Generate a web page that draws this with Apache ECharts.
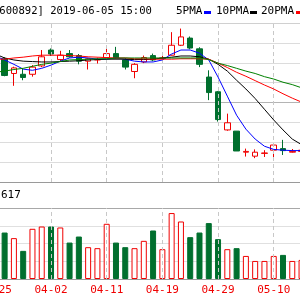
<!DOCTYPE html>
<html>
<head>
<meta charset="utf-8">
<script src="https://cdn.jsdelivr.net/npm/echarts@6/dist/echarts.min.js"></script>
<style>html,body{margin:0;padding:0;background:#fff}#c{width:300px;height:300px}</style>
</head>
<body>
<div id="c"></div>
<script>
const dates = ['03-25','03-26','03-27','03-28','03-29','04-01','04-02','04-03','04-04','04-08','04-09','04-10','04-11','04-12','04-15','04-16','04-17','04-18','04-19','04-22','04-23','04-24','04-25','04-26','04-29','04-30','05-06','05-07','05-08','05-09','05-10','05-13','05-14','05-15'];
const openP  = [7.25,7.10,6.73,6.71,6.71,6.92,7.32,7.08,7.23,7.18,7.04,7.07,7.13,7.23,7.07,6.78,7.02,7.18,7.11,7.19,7.44,7.62,7.35,6.64,6.27,5.31,5.28,4.75,4.65,4.72,4.80,4.84,4.75,4.77];
const closeP = [7.10,6.68,6.87,6.63,6.89,7.15,7.22,7.19,7.15,7.04,7.10,7.08,7.23,7.12,6.89,6.96,7.13,7.07,7.12,7.44,7.65,7.37,6.96,6.25,5.57,5.49,4.78,4.77,4.75,4.73,4.93,4.79,4.77,4.80];
const lowP   = [7.05,6.66,6.42,6.56,6.65,6.89,7.17,7.04,7.13,6.96,6.83,6.98,7.12,7.10,6.83,6.61,6.99,7.04,7.04,7.18,7.42,7.34,6.89,6.06,5.52,5.29,4.78,4.64,4.60,4.63,4.60,4.68,4.74,4.75];
const highP  = [7.30,7.14,6.90,6.86,6.94,7.32,7.36,7.30,7.32,7.22,7.12,7.13,7.40,7.40,7.12,6.99,7.18,7.23,7.22,7.77,7.86,7.66,7.39,6.81,6.29,5.72,5.28,4.84,4.82,4.80,4.93,5.06,4.83,4.83];
const ma5  = [7.17,7.07,6.96,6.84,6.81,6.86,6.94,7.04,7.12,7.14,7.12,7.09,7.09,7.12,7.09,7.04,7.02,7.02,7.07,7.22,7.32,7.32,7.24,7.07,6.64,6.16,5.68,5.33,5.08,4.90,4.82,4.80,4.79,4.79];
const ma10 = [7.22,7.12,7.07,7.04,7.03,7.02,7.02,7.03,7.04,7.05,7.07,7.08,7.09,7.09,7.09,7.08,7.08,7.09,7.12,7.14,7.17,7.17,7.15,7.09,6.96,6.79,6.56,6.34,6.10,5.83,5.56,5.31,5.08,4.94];
const ma20 = [7.09,7.09,7.12,7.14,7.17,7.19,7.19,7.19,7.18,7.17,7.15,7.14,7.13,7.12,7.12,7.10,7.10,7.09,7.09,7.09,7.10,7.10,7.10,7.09,6.99,6.88,6.76,6.66,6.55,6.44,6.34,6.22,6.11,6.01];
const ma30 = [6.76,6.79,6.83,6.86,6.91,6.96,6.99,7.03,7.07,7.08,7.09,7.10,7.10,7.12,7.12,7.12,7.12,7.12,7.12,7.12,7.12,7.12,7.12,7.08,6.99,6.93,6.86,6.79,6.73,6.65,6.59,6.51,6.45,6.37];
const volume = [90000,104700,92100,63400,113100,118300,118300,116100,82100,95700,71700,69500,124400,82100,71700,69500,86000,109300,67200,148600,129600,94300,104700,126000,89800,67200,69500,52000,40700,40700,52000,54300,40700,43000];
const markDates = ['04-02','04-11','04-19','04-29','05-10'];

const RED = '#f00000', GREEN = '#006f2e';
const candles = dates.map((d, i) => [openP[i], closeP[i], lowP[i], highP[i]]);
const volData = volume.map((v, i) => {
  const up = closeP[i] >= openP[i];
  return { value: v, itemStyle: up ? { color: '#fff', borderColor: RED, borderWidth: 1 } : { color: GREEN, borderColor: GREEN, borderWidth: 1 } };
});
const mono = '"DejaVu Sans Mono", "Liberation Mono", monospace';

const chart = echarts.init(document.getElementById('c'), null, { renderer: 'canvas' });
const vline = { symbol: 'none', silent: true, label: { show: false },
  lineStyle: { type: [4, 3], color: '#c8c8c8', width: 1 },
  data: markDates.map(d => ({ xAxis: d })) };
const lineS = (name, data, color) => ({ name, type: 'line', data, xAxisIndex: 0, yAxisIndex: 0,
  showSymbol: false, symbol: 'none', lineStyle: { width: 1, color }, itemStyle: { color }, z: 5, animation: false });

chart.setOption({
  animation: false,
  backgroundColor: '#fff',
  grid: [
    { left: -9.3, right: -6.2, top: 23, height: 159, containLabel: false, outerBoundsMode: 'none' },
    { left: -9.3, right: -6.2, top: 208, height: 71, containLabel: false, outerBoundsMode: 'none' }
  ],
  xAxis: [
    { type: 'category', gridIndex: 0, data: dates, boundaryGap: true,
      axisLine: { show: false }, axisTick: { show: false }, axisLabel: { show: false }, splitLine: { show: false } },
    { type: 'category', gridIndex: 1, data: dates, boundaryGap: true,
      axisLine: { show: false }, axisTick: { show: false }, splitLine: { show: false },
      axisLabel: { interval: (i) => i % 6 === 0, color: RED, fontFamily: mono, fontSize: 11, margin: 6, hideOverlap: false } }
  ],
  yAxis: [
    { type: 'value', gridIndex: 0, min: 4, max: 8, interval: 0.5,
      axisLine: { show: false }, axisTick: { show: false }, axisLabel: { show: false },
      splitLine: { show: true, lineStyle: { width: 1, color: ['#9a9a9a', '#dcdcdc', '#dcdcdc', '#dcdcdc', '#b4b4b4', '#dcdcdc', '#dcdcdc', '#dcdcdc', '#d0d0d0'] } } },
    { type: 'value', gridIndex: 1, min: 0, max: 160000, interval: 40000,
      axisLine: { show: false }, axisTick: { show: false }, axisLabel: { show: false },
      splitLine: { show: true, lineStyle: { width: 1, color: ['#9a9a9a', '#e0e0e0', '#e0e0e0', '#e0e0e0', '#a8a8a8'] } } }
  ],
  series: [
    { name: 'K', type: 'candlestick', data: candles, xAxisIndex: 0, yAxisIndex: 0, barWidth: 6,
      itemStyle: { color: '#fff', color0: GREEN, borderColor: RED, borderColor0: GREEN, borderWidth: 1 },
      markLine: vline, z: 3 },
    lineS('MA5', ma5, '#0000ff'),
    lineS('MA10', ma10, '#000000'),
    lineS('MA20', ma20, '#ff0000'),
    lineS('MA30', ma30, '#008000'),
    { name: 'VOL', type: 'bar', data: volData, xAxisIndex: 1, yAxisIndex: 1, barWidth: 6,
      markLine: vline }
  ],
  graphic: [
    { type: 'text', x: -7, y: 6, scaleX: 0.96, style: { text: '[600892] 2019-06-05 15:00', font: '11px ' + mono, fill: '#000' } },
    { type: 'text', x: 176, y: 6, style: { text: '5PMA', font: '11px ' + mono, fill: '#000' } },
    { type: 'rect', shape: { x: 204, y: 11, width: 7, height: 3 }, style: { fill: '#0000ff' } },
    { type: 'text', x: 216, y: 6, style: { text: '10PMA', font: '11px ' + mono, fill: '#000' } },
    { type: 'rect', shape: { x: 250, y: 11, width: 7, height: 3 }, style: { fill: '#000' } },
    { type: 'text', x: 261, y: 6, style: { text: '20PMA', font: '11px ' + mono, fill: '#000' } },
    { type: 'rect', shape: { x: 296, y: 11, width: 7, height: 3 }, style: { fill: '#ff0000' } },
    { type: 'text', x: 1, y: 190, style: { text: '617', font: '11px ' + mono, fill: '#000' } }
  ]
});
</script>
</body>
</html>
